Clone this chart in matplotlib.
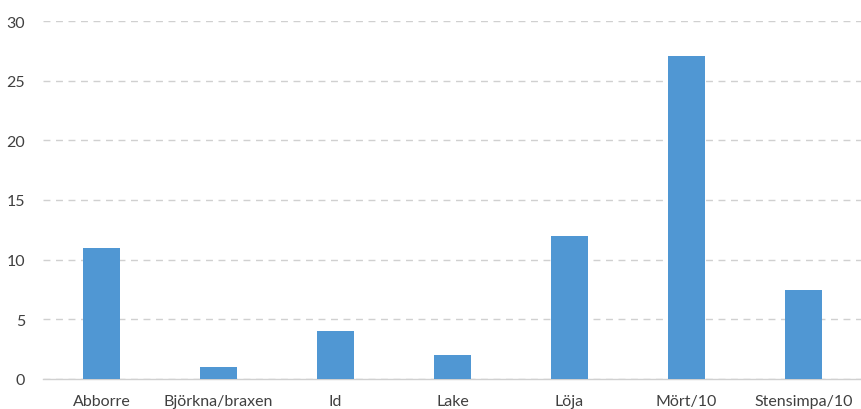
import numpy as np
import matplotlib.pyplot as plt

# fångst per art (mört och stensimpa delade med 10)
arter = ['Abborre', 'Björkna/braxen', 'Id', 'Lake', 'Löja', 'Mört/10', 'Stensimpa/10']
antal = [11, 1, 4, 2, 12, 27.1, 7.5]

plt.rcParams['font.family'] = ['Lato', 'DejaVu Sans']

fig = plt.figure(figsize=(8.62, 4.10), dpi=100)
ax = fig.add_axes([43/862, 1 - 380/410, 1 - 43/862, (380 - 22)/410])

x = np.arange(len(arter))
ax.bar(x, antal, width=0.31, color='#5097d3', zorder=3)

ax.set_xlim(-0.5, len(arter) - 0.5)
ax.set_ylim(0, 30)
ax.set_yticks(range(0, 31, 5))
ax.set_xticks(x)
ax.set_xticklabels(arter)

ax.grid(axis='y', color='#d0d0d0', linestyle=(0, (5, 4)), linewidth=1, zorder=0)
for s in ['top', 'right', 'left']:
    ax.spines[s].set_visible(False)
ax.spines['bottom'].set_color('#d0d0d0')
ax.spines['bottom'].set_linewidth(1)
ax.tick_params(axis='both', length=0, labelsize=11.5, colors='#404040')
ax.tick_params(axis='x', pad=11)
ax.tick_params(axis='y', pad=13)

fig.savefig('out.png', dpi=100)
